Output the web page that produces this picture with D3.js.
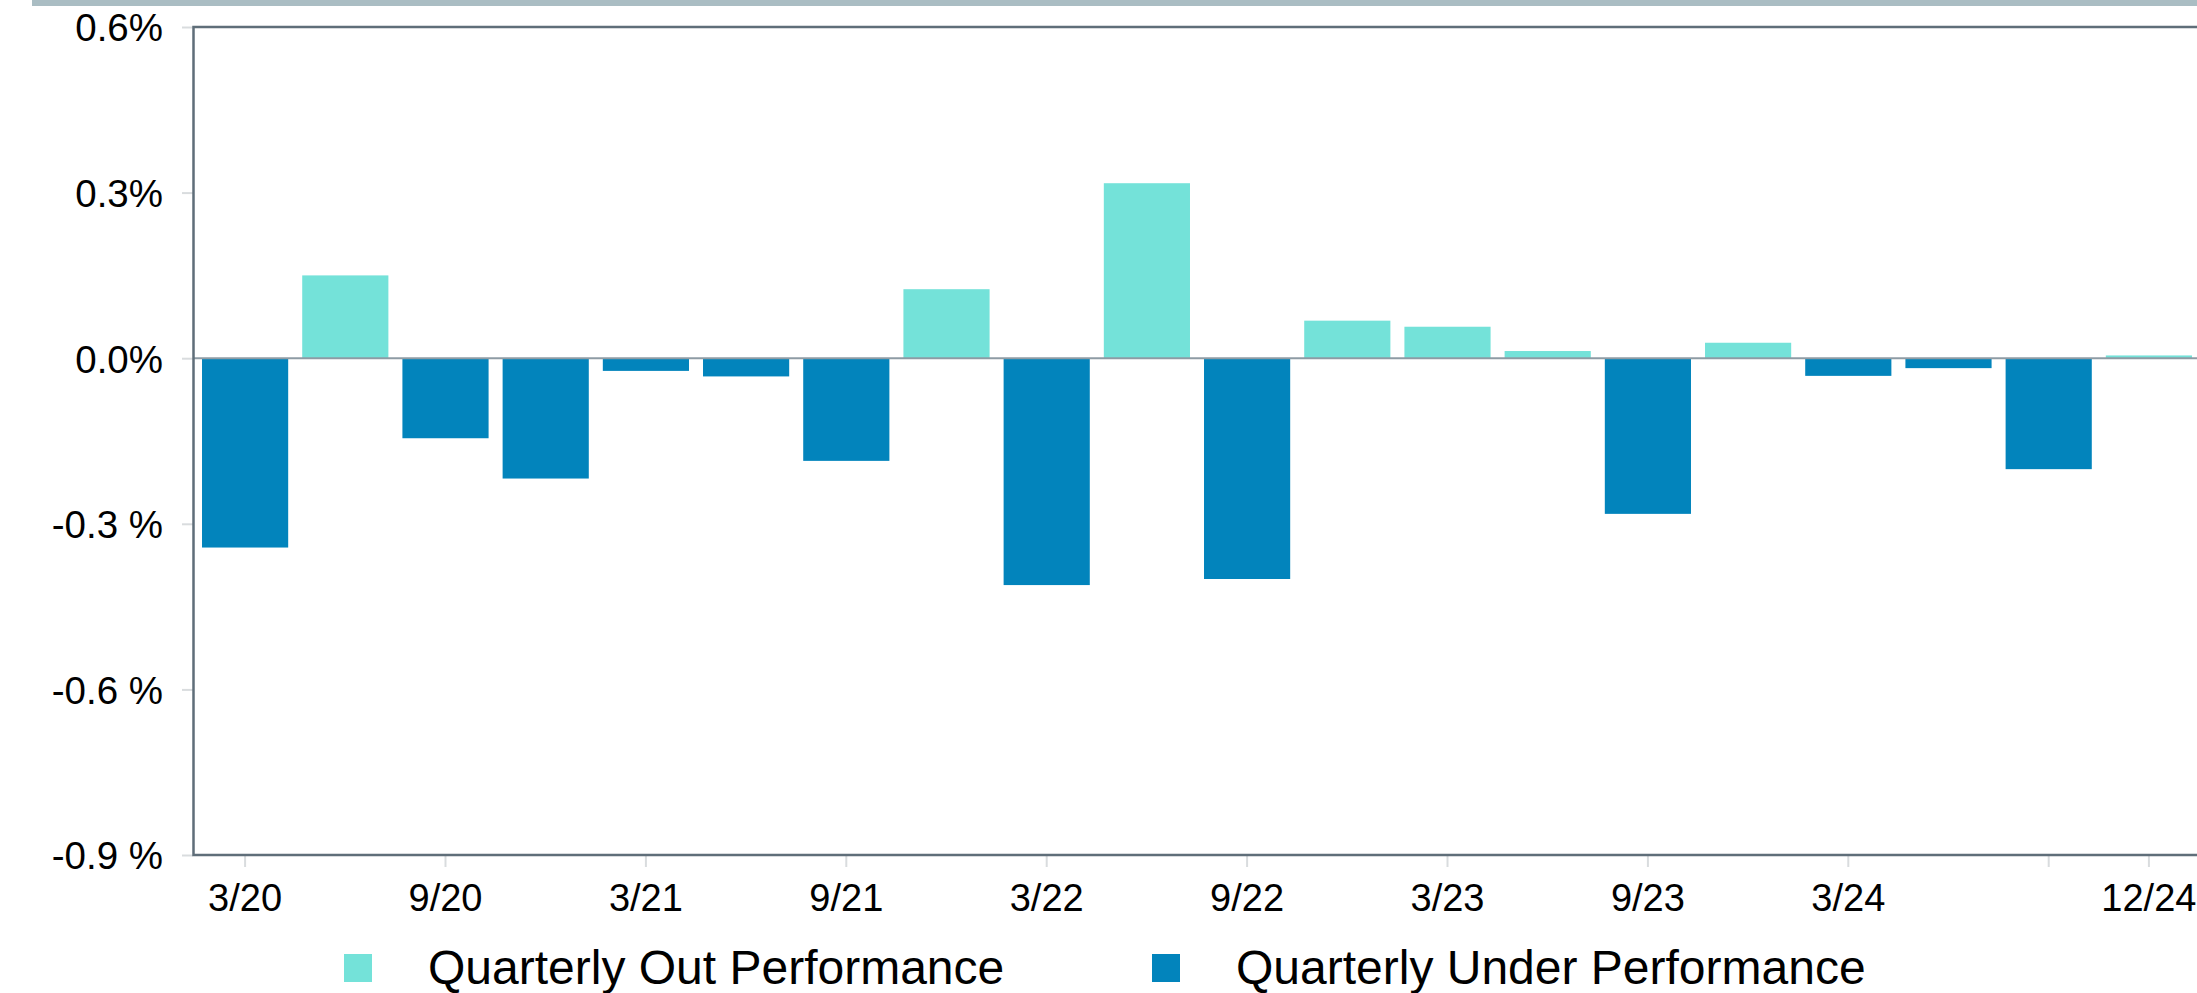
<!DOCTYPE html>
<html>
<head>
<meta charset="utf-8">
<script src="https://cdnjs.cloudflare.com/ajax/libs/d3/7.8.5/d3.min.js"></script>
<style>
    body { margin: 0; background: #ffffff; }
    svg { display: block; font-family: "Liberation Sans", Arial, Helvetica, sans-serif; }
</style>
</head>
<body>
<svg id="bar_svg"></svg>
<script>
    // ============ DATA =================
    var quarters = ["3/20", "6/20", "9/20", "12/20", "3/21", "6/21", "9/21", "12/21",
                    "3/22", "6/22", "9/22", "12/22", "3/23", "6/23", "9/23", "12/23",
                    "3/24", "6/24", "9/24", "12/24"];
    var relativePerf = [-0.343, 0.150, -0.145, -0.218, -0.023, -0.033, -0.186, 0.125,
                        -0.411, 0.317, -0.400, 0.068, 0.057, 0.013, -0.282, 0.028,
                        -0.032, -0.018, -0.201, 0.005];
    var xTickQuarters = ["3/20", "9/20", "3/21", "9/21", "3/22", "9/22", "3/23", "9/23", "3/24", "9/24", "12/24"];
    var xLabelQuarters = ["3/20", "9/20", "3/21", "9/21", "3/22", "9/22", "3/23", "9/23", "3/24", "12/24"];
    var yTicks = [0.6, 0.3, 0.0, -0.3, -0.6, -0.9];
    var yTickLabels = ["0.6%", "0.3%", "0.0%", "-0.3 %", "-0.6 %", "-0.9 %"];
    var legendLabels = ["Quarterly Out Performance", "Quarterly Under Performance"];

    var outColor = "#74e2d9";
    var underColor = "#0284bc";
    var frameColor = "#5f6e79";
    var tickColor = "#d9dcde";

    var svgWidth = 2197;
    var svgHeight = 993;

    var data = quarters.map(function (q, i) { return { label: q, value: relativePerf[i] }; });

    var svg = d3.select("#bar_svg")
        .attr("width", svgWidth)
        .attr("height", svgHeight);

    // top banner strip
    svg.append("rect")
        .attr("x", 32).attr("y", 0)
        .attr("width", svgWidth - 32).attr("height", 6)
        .attr("fill", "#aabdc3");

    // ============ SCALES =================
    var xScale = d3.scaleBand()
        .domain(quarters)
        .range([194, 2200])
        .paddingInner(0.14)
        .paddingOuter(0.08);

    var yScale = d3.scaleLinear()
        .domain([-0.9, 0.6])
        .range([855, 27]);

    // ============ BARS =================
    svg.selectAll(".bar")
        .data(data)
        .enter().append("rect")
        .attr("class", "bar")
        .attr("x", function (d) { return xScale(d.label); })
        .attr("y", function (d) { return yScale(Math.max(0, d.value)); })
        .attr("width", xScale.bandwidth())
        .attr("height", function (d) { return Math.abs(yScale(d.value) - yScale(0)); })
        .attr("fill", function (d) { return d.value >= 0 ? outColor : underColor; });

    // zero line
    svg.append("line")
        .attr("x1", 194).attr("x2", svgWidth)
        .attr("y1", yScale(0)).attr("y2", yScale(0))
        .attr("stroke", "#8e9ba4")
        .attr("stroke-width", 2);

    // ============ AXES =================
    var yAxis = d3.axisLeft(yScale)
        .tickValues(yTicks)
        .tickSize(11)
        .tickPadding(19)
        .tickFormat(function (d, i) { return yTickLabels[i]; });

    var yAxisG = svg.append("g")
        .attr("class", "y-axis")
        .attr("transform", "translate(193,0)")
        .call(yAxis);
    yAxisG.select(".domain").remove();
    yAxisG.selectAll(".tick line").attr("stroke", tickColor).attr("stroke-width", 2);
    yAxisG.selectAll(".tick text")
        .attr("fill", "#000")
        .style("font-size", "38.5px")
        .attr("dy", "0.36em");

    var xAxis = d3.axisBottom(xScale)
        .tickValues(xTickQuarters)
        .tickSize(11)
        .tickPadding(17)
        .tickFormat(function (d) { return xLabelQuarters.indexOf(d) >= 0 ? d : ""; });

    var xAxisG = svg.append("g")
        .attr("class", "x-axis")
        .attr("transform", "translate(0,856)")
        .call(xAxis);
    xAxisG.select(".domain").remove();
    xAxisG.selectAll(".tick line").attr("stroke", tickColor).attr("stroke-width", 2);
    xAxisG.selectAll(".tick text")
        .attr("fill", "#000")
        .style("font-size", "38px")
        .attr("dy", "0.72em");

    // plot frame: left, top and bottom edges
    svg.append("path")
        .attr("d", "M" + svgWidth + "," + yScale(0.6) + "H193.5V" + 855 + "H" + svgWidth)
        .attr("fill", "none")
        .attr("stroke", frameColor)
        .attr("stroke-width", 2.5);

    // ============ LEGEND =================
    var legendX = [344, 1152];
    var legend = svg.selectAll(".legend")
        .data(legendLabels)
        .enter().append("g")
        .attr("class", "legend")
        .attr("transform", function (d, i) { return "translate(" + legendX[i] + ",954)"; });

    legend.append("rect")
        .attr("width", 28).attr("height", 28)
        .attr("fill", function (d, i) { return i === 0 ? outColor : underColor; });

    legend.append("text")
        .attr("x", 84)
        .attr("y", 30)
        .style("font-size", "48px")
        .attr("fill", "#000")
        .text(function (d) { return d; });
</script>
</body>
</html>
